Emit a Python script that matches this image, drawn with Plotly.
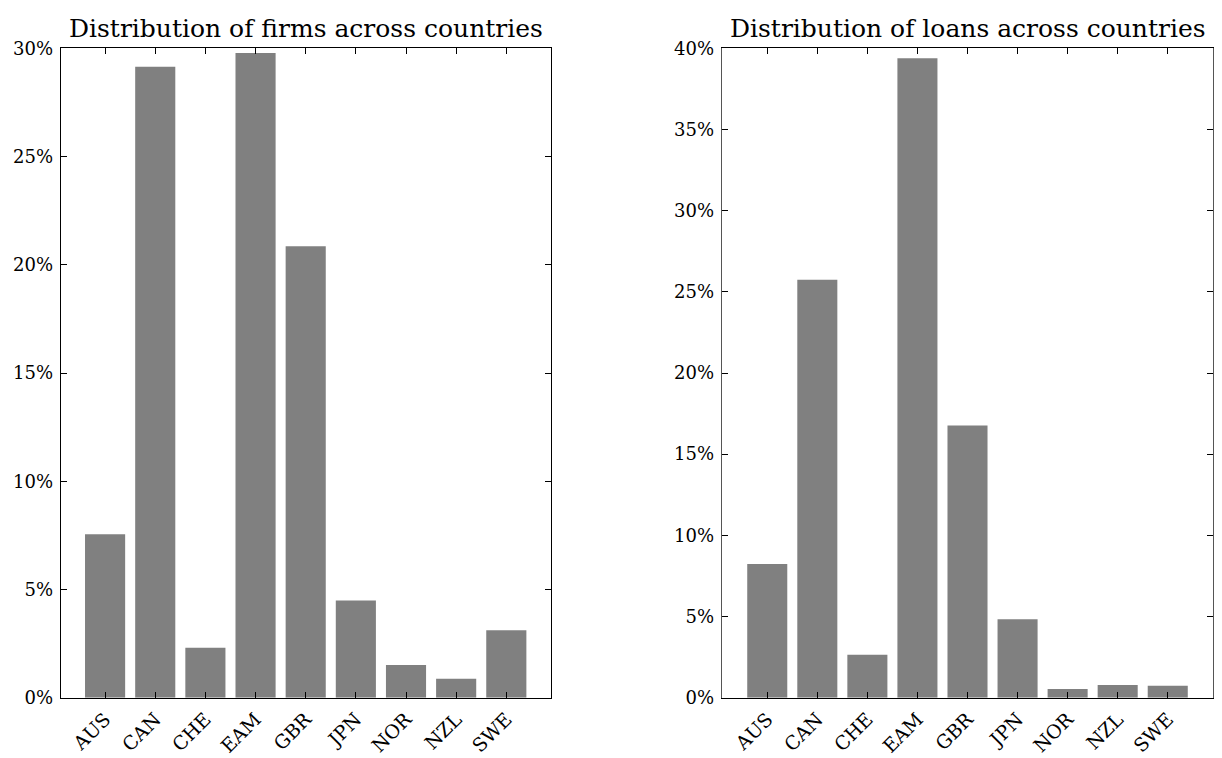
import plotly.graph_objects as go

# Share of firms and loans by country (percent)
countries = ["AUS", "CAN", "CHE", "EAM", "GBR", "JPN", "NOR", "NZL", "SWE"]
firms_pct = [7.55, 29.15, 2.31, 29.78, 20.85, 4.49, 1.51, 0.88, 3.12]
loans_pct = [8.24, 25.75, 2.65, 39.38, 16.77, 4.83, 0.54, 0.78, 0.74]

firms_title = "Distribution of firms across countries"
loans_title = "Distribution of loans across countries"

W, H = 1222, 758
FONT = "DejaVu Serif"
BAR = "#808080"

# Plot areas in pixels (left, right, top, bottom)
left_box = (60.7, 550.7, 48.3, 697.7)
right_box = (721.7, 1213.3, 48.3, 697.7)


def xdom(box):
    return [box[0] / W, box[1] / W]


def ydom(box):
    return [1 - box[3] / H, 1 - box[2] / H]


fig = go.Figure()
fig.add_trace(go.Bar(x=list(range(len(countries))), y=firms_pct, marker_color=BAR,
                     marker_line_width=0, xaxis="x", yaxis="y", width=0.8))
fig.add_trace(go.Bar(x=list(range(len(countries))), y=loans_pct, marker_color=BAR,
                     marker_line_width=0, xaxis="x2", yaxis="y2", width=0.8))

common_x = dict(
    tickmode="array", tickvals=list(range(len(countries))), ticktext=countries,
    tickangle=-45, ticks="inside", ticklen=6, tickwidth=1, tickcolor="black",
    showline=True, linecolor="black", linewidth=1, mirror="ticks",
    showgrid=False, zeroline=False, automargin=False, ticklabelstandoff=2,
    tickfont=dict(family=FONT, size=19, color="black"),
)
common_y = dict(
    ticks="inside", ticklen=6, tickwidth=1, tickcolor="black",
    showline=True, linecolor="black", linewidth=1, mirror="ticks",
    showgrid=False, zeroline=False, ticksuffix="%", dtick=5, automargin=False,
    ticklabelstandoff=3,
    tickfont=dict(family=FONT, size=18, color="black"),
)

fig.update_layout(
    width=W, height=H,
    margin=dict(l=0, r=0, t=0, b=0),
    paper_bgcolor="white", plot_bgcolor="white",
    showlegend=False,
    xaxis=dict(common_x, domain=xdom(left_box), range=[-0.885, 8.885], anchor="y"),
    yaxis=dict(common_y, domain=ydom(left_box), range=[0, 30], anchor="x"),
    xaxis2=dict(common_x, domain=xdom(right_box), range=[-0.91, 8.91], anchor="y2"),
    yaxis2=dict(common_y, domain=ydom(right_box), range=[0, 40], anchor="x2",
                linecolor="#555555"),
    annotations=[
        dict(text=firms_title, xref="paper", yref="paper",
             x=sum(xdom(left_box)) / 2, y=ydom(left_box)[1], yshift=3,
             xanchor="center", yanchor="bottom", showarrow=False,
             font=dict(family=FONT, size=25, color="black")),
        dict(text=loans_title, xref="paper", yref="paper",
             x=sum(xdom(right_box)) / 2, y=ydom(right_box)[1], yshift=3,
             xanchor="center", yanchor="bottom", showarrow=False,
             font=dict(family=FONT, size=25, color="black")),
    ],
)

fig.write_html("out.html")
